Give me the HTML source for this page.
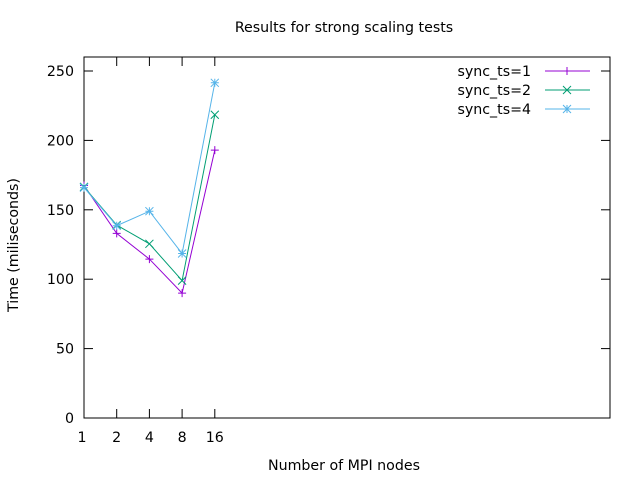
<!DOCTYPE html>
<html><head><meta charset="utf-8"><style>
body{margin:0;background:#fff}
svg text{font-family:"DejaVu Sans","Liberation Sans",sans-serif;font-size:14.2px;fill:#000}
</style></head><body>
<svg width="640" height="480" xmlns="http://www.w3.org/2000/svg">
<text x="344" y="32" text-anchor="middle">Results for strong scaling tests</text>
<g id="axes"></g>
<g id="series"></g>
<g id="legend"></g>
<text x="344" y="470" text-anchor="middle">Number of MPI nodes</text>
<text transform="translate(18,245) rotate(-90)" text-anchor="middle">Time (miliseconds)</text>
</svg>
<script>
const categories=[1,2,4,8,16];
const seriesNames=["sync_ts=1","sync_ts=2","sync_ts=4"];
const ts1=[167.5,133,114.5,90,193];
const ts2=[166.5,139,125.5,99,218.5];
const ts4=[166,138.5,149,118.5,241.5];
const yTicks=[0,50,100,150,200,250];
const colors=["#9400d3","#009e73","#56b4e9"];
const L=84,R=610,T=57,B=418;
const xs=v=>L+Math.log2(v)*32.7;
const ys=v=>B-v*(347/250);
const NS="http://www.w3.org/2000/svg";
function mk(tag,attrs,parent){const e=document.createElementNS(NS,tag);for(const k in attrs)e.setAttribute(k,attrs[k]);parent.appendChild(e);return e;}
const ax=document.getElementById('axes');
const frame=mk('rect',{x:L,y:T,width:R-L,height:B-T,fill:'none',stroke:'#000','stroke-width':1},ax);


yTicks.forEach(v=>{
  const y=ys(v);
  mk('line',{x1:L,x2:L+9,y1:y,y2:y,stroke:'#000'},ax);
  mk('line',{x1:R-9,x2:R,y1:y,y2:y,stroke:'#000'},ax);
  const t=mk('text',{x:L-10,y:y+5,'text-anchor':'end'},ax);t.textContent=v;
  
  
});
categories.forEach(c=>{
  const x=xs(c);
  mk('line',{x1:x,x2:x,y1:B,y2:B-9,stroke:'#000'},ax);
  mk('line',{x1:x,x2:x,y1:T,y2:T+9,stroke:'#000'},ax);
  const t=mk('text',{x:x-(c===1?2:0),y:B+24,'text-anchor':'middle'},ax);t.textContent=c;
  
  
});
function marker(i,x,y,g){
  const c=colors[i],s=4;
  if(i===0){mk('path',{d:`M${x-s} ${y}H${x+s}M${x} ${y-s}V${y+s}`,stroke:c,fill:'none'},g);}
  else if(i===1){mk('path',{d:`M${x-s} ${y-s}L${x+s} ${y+s}M${x-s} ${y+s}L${x+s} ${y-s}`,stroke:c,fill:'none'},g);}
  else{mk('path',{d:`M${x-s} ${y}H${x+s}M${x} ${y-s}V${y+s}M${x-s} ${y-s}L${x+s} ${y+s}M${x-s} ${y+s}L${x+s} ${y-s}`,stroke:c,fill:'none'},g);}
}
const sg=document.getElementById('series');
[ts1,ts2,ts4].forEach((arr,i)=>{
  const g=mk('g',{},sg);
  
  
  const pts=arr.map((v,j)=>xs(categories[j])+','+ys(v)).join(' ');
  mk('polyline',{points:pts,fill:'none',stroke:colors[i],'stroke-width':1},g);
  arr.forEach((v,j)=>marker(i,xs(categories[j]),ys(v),g));
});
const lg=document.getElementById('legend');
seriesNames.forEach((n,i)=>{
  const y=71+i*19;
  const g=mk('g',{},lg);
  
  
  const t=mk('text',{x:531,y:y+5,'text-anchor':'end'},g);t.textContent=n;
  mk('line',{x1:545,x2:590,y1:y,y2:y,stroke:colors[i]},g);
  marker(i,567,y,g);
});
</script>
</body></html>
